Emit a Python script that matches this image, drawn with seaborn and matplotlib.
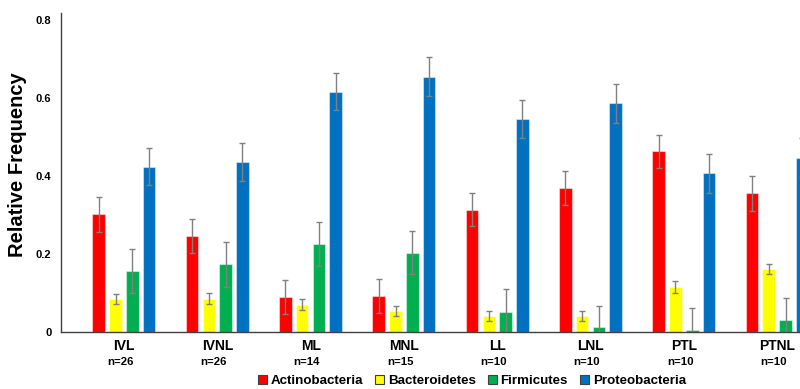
import matplotlib
matplotlib.use("Agg")
import matplotlib.pyplot as plt
import matplotlib.transforms as mtransforms
from matplotlib.patches import Patch
import numpy as np
import pandas as pd
import seaborn as sns

# Sample groups and sizes
groups = ["IVL", "IVNL", "ML", "MNL", "LL", "LNL", "PTL", "PTNL"]
group_sizes = ["n=26", "n=26", "n=14", "n=15", "n=10", "n=10", "n=10", "n=10"]

phyla = ["Actinobacteria", "Bacteroidetes", "Firmicutes", "Proteobacteria"]

# Mean relative frequency per phylum
actinobacteria = [0.302, 0.247, 0.090, 0.092, 0.314, 0.370, 0.464, 0.356]
bacteroidetes = [0.085, 0.086, 0.070, 0.054, 0.040, 0.040, 0.116, 0.162]
firmicutes = [0.157, 0.174, 0.226, 0.204, 0.052, 0.012, 0.004, 0.031]
proteobacteria = [0.425, 0.436, 0.617, 0.656, 0.546, 0.588, 0.408, 0.448]

# Standard errors
actinobacteria_err = [0.044, 0.043, 0.043, 0.043, 0.043, 0.043, 0.042, 0.044]
bacteroidetes_err = [0.013, 0.014, 0.014, 0.013, 0.013, 0.013, 0.015, 0.013]
firmicutes_err = [0.056, 0.058, 0.057, 0.056, 0.058, 0.056, 0.057, 0.057]
proteobacteria_err = [0.048, 0.049, 0.048, 0.049, 0.049, 0.050, 0.050, 0.050]

y_ticks = [0, 0.2, 0.4, 0.6, 0.8]
y_tick_labels = ["0", "0.2", "0.4", "0.6", "0.8"]

colors = ["#FF0000", "#FFFF00", "#00B050", "#0070C0"]

means = [actinobacteria, bacteroidetes, firmicutes, proteobacteria]
errs = [actinobacteria_err, bacteroidetes_err, firmicutes_err, proteobacteria_err]

df = pd.DataFrame({
    "group": np.tile(groups, len(phyla)),
    "phylum": np.repeat(phyla, len(groups)),
    "freq": np.concatenate(means),
})

sns.set_theme(style="white")
plt.rcParams["font.family"] = ["Liberation Sans", "DejaVu Sans"]
plt.rcParams["font.weight"] = "bold"
plt.rcParams["text.color"] = "black"
plt.rcParams["xtick.color"] = "black"
plt.rcParams["ytick.color"] = "black"

fig = plt.figure(figsize=(8.0, 3.89), dpi=100)
ax = fig.add_axes([61 / 800, 1 - 332 / 389, 1 - 61 / 800, (332 - 12.7) / 389])

sns.barplot(data=df, x="group", y="freq", hue="phylum", order=groups,
            hue_order=phyla, palette=colors, width=0.72, gap=0.25,
            errorbar=None, edgecolor=(1, 1, 1, 0.45), linewidth=0.8,
            saturation=1, ax=ax, legend=False)

# Error bars centred on each bar
for container, err in zip(ax.containers, errs):
    xs = [b.get_x() + b.get_width() / 2 for b in container]
    hs = [b.get_height() for b in container]
    ax.errorbar(xs, hs, yerr=err, fmt="none", ecolor="#808080",
                elinewidth=1.0, capsize=2.5, capthick=1.0, zorder=5)

ax.set_xlim(-0.675, 7.245)
ax.set_ylim(0, 0.82)
ax.set_yticks(y_ticks)
ax.set_yticklabels(y_tick_labels, fontsize=8, fontweight="bold")
ax.tick_params(axis="y", length=0, pad=7, colors="black")
ax.tick_params(axis="x", length=0, pad=5, colors="black")
ax.set_xticks(range(len(groups)))
ax.set_xticklabels(groups, fontsize=10, fontweight="bold")
ax.set_xlabel("")
ax.set_ylabel("")

for side in ["top", "right"]:
    ax.spines[side].set_visible(False)
for side in ["left", "bottom"]:
    ax.spines[side].set_color("#404040")
    ax.spines[side].set_linewidth(1.0)

# Sample sizes under each group name
trans = mtransforms.blended_transform_factory(ax.transData, ax.transAxes)
for i, n in enumerate(group_sizes):
    ax.text(i - 0.04, -0.094, n, transform=trans, ha="center", va="center",
            fontsize=8.2, fontweight="bold", color="black")

fig.text(18 / 800, 1 - 165 / 389, "Relative Frequency", rotation=90,
         ha="center", va="center", fontsize=14.5, fontweight="bold", color="black")

handles = [Patch(facecolor=c, edgecolor="#404040", linewidth=0.8) for c in colors]
fig.legend(handles, phyla, loc="center", bbox_to_anchor=(472 / 800, 1 - 381 / 389),
           ncol=4, frameon=False, handlelength=0.65, handleheight=0.65,
           handletextpad=0.3, columnspacing=0.9, labelcolor="black",
           prop={"weight": "bold", "size": 9.6})

fig.savefig("out.png", dpi=100)
